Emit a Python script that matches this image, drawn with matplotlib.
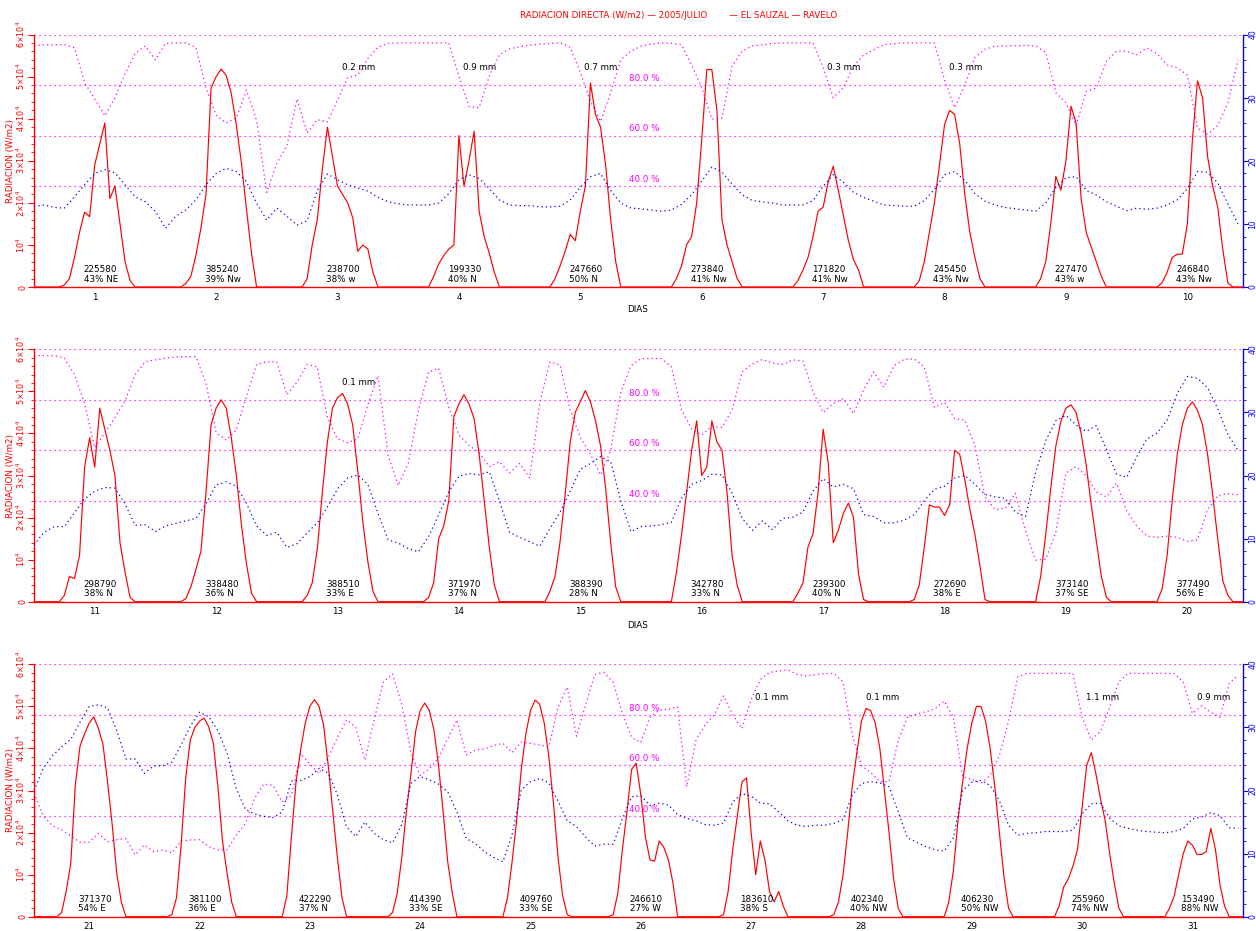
#Radiation plot for El Sauzal - July 2005, three panels of days
import matplotlib
matplotlib.use("Agg")
import matplotlib.pyplot as plt
from matplotlib.ticker import FuncFormatter, MultipleLocator

#radiation per day, hours 6..20 (units of 10^4 W/m2)
rad_1 = [
    [0.05, 0.2, 0.7, 1.3, 1.78, 1.67, 2.9, 3.4, 3.9, 2.1, 2.4, 1.5, 0.6, 0.15, 0],
    [0.08, 0.25, 0.75, 1.4, 2.2, 4.73, 5.0, 5.18, 5.03, 4.6, 3.85, 2.95, 1.85, 0.8, 0],
    [0.2, 1.0, 1.6, 2.8, 3.8, 3.1, 2.4, 2.2, 2.0, 1.65, 0.85, 1.0, 0.9, 0.35, 0],
    [0, 0.25, 0.55, 0.75, 0.9, 1.0, 3.6, 2.4, 3.0, 3.7, 1.8, 1.2, 0.8, 0.35, 0],
    [0, 0.2, 0.5, 0.85, 1.25, 1.1, 1.8, 2.4, 4.85, 4.1, 3.8, 2.9, 1.6, 0.6, 0],
    [0, 0.2, 0.5, 1.0, 1.2, 2.0, 3.5, 5.17, 5.17, 4.2, 1.6, 1.0, 0.6, 0.2, 0],
    [0, 0.15, 0.4, 0.7, 1.2, 1.8, 1.9, 2.5, 2.87, 2.3, 1.7, 1.1, 0.65, 0.4, 0],
    [0, 0.15, 0.6, 1.3, 2.0, 2.9, 3.86, 4.2, 4.1, 3.4, 2.2, 1.3, 0.7, 0.2, 0],
    [0, 0.2, 0.6, 1.5, 2.63, 2.3, 3.0, 4.3, 3.9, 2.1, 1.3, 0.95, 0.6, 0.25, 0],
    [0, 0.1, 0.35, 0.7, 0.78, 0.78, 1.5, 3.5, 4.9, 4.5, 3.1, 2.4, 1.9, 0.9, 0.1],
]
rad_2 = [
    [0.15, 0.6, 0.55, 1.1, 3.2, 3.9, 3.2, 4.6, 4.1, 3.6, 3.0, 1.4, 0.7, 0.1, 0],
    [0.07, 0.35, 0.76, 1.2, 2.6, 4.2, 4.6, 4.8, 4.6, 3.9, 3.0, 1.83, 0.9, 0.2, 0],
    [0.15, 0.45, 1.25, 2.6, 3.8, 4.6, 4.85, 4.95, 4.7, 4.2, 3.1, 1.9, 0.95, 0.25, 0],
    [0.1, 0.45, 1.5, 1.8, 2.4, 4.4, 4.7, 4.92, 4.7, 4.35, 3.5, 2.4, 1.3, 0.4, 0],
    [0.25, 0.6, 1.43, 2.55, 3.8, 4.5, 4.76, 5.02, 4.75, 4.3, 3.7, 2.7, 1.4, 0.35, 0],
    [0, 0.7, 1.59, 2.6, 3.6, 4.3, 3.0, 3.2, 4.3, 3.8, 3.6, 2.6, 1.1, 0.4, 0],
    [0, 0.2, 0.44, 1.3, 1.62, 2.6, 4.1, 3.3, 1.4, 1.7, 2.1, 2.35, 2.0, 0.65, 0.05],
    [0.05, 0.4, 1.3, 2.3, 2.25, 2.25, 2.05, 2.3, 3.6, 3.5, 2.9, 2.2, 1.6, 0.85, 0.05],
    [0, 0.6, 1.6, 2.7, 3.7, 4.29, 4.6, 4.68, 4.5, 4.0, 3.25, 2.3, 1.45, 0.6, 0.1],
    [0, 0.3, 1.1, 2.4, 3.5, 4.2, 4.6, 4.75, 4.55, 4.2, 3.5, 2.55, 1.5, 0.5, 0.15],
]
rad_3 = [
    [0.1, 0.6, 1.27, 3.15, 4.05, 4.35, 4.6, 4.75, 4.48, 4.1, 3.2, 2.2, 1.03, 0.35, 0],
    [0.05, 0.45, 1.7, 3.3, 4.2, 4.5, 4.65, 4.72, 4.52, 4.13, 3.1, 1.8, 1.03, 0.35, 0],
    [0, 0.5, 1.9, 3.2, 3.97, 4.6, 5.0, 5.16, 5.0, 4.55, 3.6, 2.5, 1.4, 0.45, 0],
    [0.1, 0.55, 1.4, 2.5, 3.4, 4.4, 4.9, 5.08, 4.9, 4.44, 3.6, 2.5, 1.3, 0.56, 0],
    [0, 0.45, 1.3, 2.3, 3.5, 4.35, 4.9, 5.15, 5.05, 4.6, 3.8, 2.7, 1.4, 0.5, 0.05],
    [0.05, 0.56, 1.6, 2.5, 3.5, 3.65, 2.9, 1.9, 1.35, 1.32, 1.8, 1.65, 1.35, 0.8, 0],
    [0.05, 0.6, 1.6, 2.4, 3.2, 3.3, 2.0, 1.0, 1.8, 1.35, 0.6, 0.35, 0.6, 0.25, 0],
    [0.05, 0.35, 1.0, 2.0, 3.1, 3.9, 4.65, 4.95, 4.9, 4.6, 4.0, 3.0, 2.0, 0.9, 0.2],
    [0, 0.35, 1.1, 2.3, 3.2, 4.0, 4.6, 5.0, 5.0, 4.65, 4.0, 3.1, 2.0, 0.95, 0.2],
    [0, 0.25, 0.71, 0.9, 1.2, 1.6, 2.6, 3.6, 3.9, 3.4, 2.8, 2.3, 1.5, 0.8, 0.2],
    [0, 0.2, 0.48, 1.0, 1.5, 1.8, 1.7, 1.48, 1.48, 1.55, 2.1, 1.6, 0.75, 0.25, 0],
]

#temperature every 2 hours (right axis)
temp_1 = [
    [12.75, 13.0, 12.6, 12.5, 14.3, 16.2, 18.0, 18.6, 18.1, 16.2, 14.3, 13.5],
    [12.0, 9.3, 11.2, 12.2, 13.8, 16.2, 18.0, 18.8, 18.3, 16.7, 13.3, 10.6],
    [12.5, 11.2, 9.8, 10.5, 15.3, 17.9, 17.0, 16.2, 15.7, 15.2, 14.2, 13.5],
    [13.2, 13.0, 13.0, 13.0, 13.3, 14.8, 17.0, 17.8, 17.2, 15.6, 13.8, 13.0],
    [12.9, 12.9, 12.7, 12.7, 12.8, 13.8, 15.8, 17.5, 18.0, 15.3, 13.3, 12.5],
    [12.4, 12.2, 12.0, 12.2, 13.1, 14.6, 16.8, 19.0, 18.2, 16.3, 14.6, 13.7],
    [13.5, 13.3, 13.0, 13.0, 13.0, 13.7, 16.0, 17.8, 16.6, 15.0, 14.2, 13.6],
    [13.0, 12.9, 12.8, 12.8, 13.7, 15.5, 17.8, 18.3, 16.9, 14.8, 13.6, 13.0],
    [12.6, 12.4, 12.2, 12.0, 13.3, 15.8, 17.3, 17.5, 15.3, 14.6, 13.5, 12.8],
    [12.1, 12.5, 12.3, 12.5, 13.0, 13.8, 15.6, 18.3, 18.2, 16.5, 13.2, 10.0],
]
temp_2 = [
    [9.0, 11.0, 11.9, 11.9, 14.1, 16.3, 17.5, 18.1, 18.0, 15.5, 12.1, 12.2],
    [11.1, 12.0, 12.4, 12.8, 13.2, 15.5, 18.5, 19.0, 18.3, 15.6, 12.0, 10.5],
    [11.0, 8.6, 9.2, 10.9, 12.5, 15.0, 17.9, 19.6, 20.1, 18.6, 14.0, 9.8],
    [9.3, 8.4, 7.9, 10.3, 13.8, 17.4, 19.9, 20.3, 20.1, 20.6, 16.0, 11.0],
    [10.2, 9.5, 8.8, 11.6, 14.2, 17.5, 21.0, 21.9, 23.0, 22.2, 16.0, 11.1],
    [11.9, 12.0, 12.2, 12.6, 16.4, 18.6, 19.2, 20.2, 20.1, 17.2, 13.2, 11.3],
    [12.8, 11.4, 13.2, 13.4, 14.2, 17.5, 19.5, 18.2, 18.6, 17.9, 13.8, 13.5],
    [12.5, 12.5, 12.9, 13.8, 16.0, 17.8, 18.3, 19.6, 20.0, 18.6, 17.0, 16.6],
    [16.4, 14.2, 13.5, 20.5, 25.5, 28.7, 29.5, 28.0, 27.0, 27.9, 24.1, 20.2],
    [19.7, 23.0, 25.8, 26.7, 28.8, 33.0, 35.7, 35.4, 33.9, 30.6, 26.5, 24.0],
]
temp_3 = [
    [20.0, 23.5, 25.5, 26.9, 28.1, 30.8, 33.3, 33.6, 33.1, 29.5, 25.0, 25.0],
    [22.7, 23.9, 23.9, 24.5, 27.2, 30.2, 32.4, 31.7, 29.5, 25.9, 20.3, 17.0],
    [16.3, 15.9, 15.7, 16.6, 21.5, 21.6, 22.2, 23.5, 22.8, 19.3, 14.2, 12.7],
    [15.0, 13.2, 12.2, 11.7, 14.6, 21.1, 22.2, 21.7, 21.0, 19.8, 16.6, 12.4],
    [11.6, 10.3, 9.4, 8.7, 13.0, 20.1, 21.4, 21.9, 21.2, 18.3, 15.2, 14.3],
    [12.6, 11.2, 11.5, 11.5, 15.5, 19.0, 19.2, 17.6, 18.0, 17.7, 16.2, 15.6],
    [15.2, 14.6, 14.5, 14.8, 18.2, 19.5, 19.1, 18.0, 17.9, 16.6, 15.2, 14.5],
    [14.3, 14.5, 14.5, 14.8, 15.4, 19.3, 21.1, 21.4, 21.2, 20.6, 16.6, 12.5],
    [11.8, 11.1, 10.6, 10.4, 12.5, 20.0, 21.3, 21.6, 20.8, 18.4, 14.5, 12.9],
    [13.2, 13.3, 13.5, 13.5, 13.5, 13.7, 16.3, 17.9, 18.0, 15.6, 14.4, 14.0],
    [13.7, 13.5, 13.4, 13.3, 13.5, 14.0, 15.5, 15.8, 16.5, 16.0, 14.1, 14.0],
]

#relative humidity (%) every 2 hours
hum_1 = [
    [95.6, 96.0, 96.0, 96.0, 94.8, 81.0, 74.5, 67.8, 75.0, 84.5, 92.5, 95.5],
    [90.0, 96.5, 96.7, 96.7, 95.0, 79.0, 68.0, 65.0, 67.0, 78.0, 66.0, 37.5],
    [49.0, 56.0, 74.5, 61.0, 66.3, 65.4, 74.0, 83.0, 84.0, 90.5, 95.0, 96.5],
    [96.7, 96.7, 96.7, 96.7, 96.7, 96.7, 83.5, 71.5, 71.0, 83.5, 92.0, 94.3],
    [95.2, 95.8, 96.2, 96.5, 96.7, 95.0, 85.0, 73.5, 65.6, 77.0, 90.0, 93.5],
    [95.4, 96.2, 96.7, 96.5, 96.0, 88.0, 79.0, 66.5, 67.0, 87.5, 93.5, 95.5],
    [96.0, 96.5, 96.7, 96.7, 96.7, 96.7, 87.0, 75.0, 79.0, 87.5, 92.0, 94.0],
    [96.0, 96.4, 96.7, 96.7, 96.7, 96.7, 82.0, 71.0, 80.0, 91.0, 94.2, 95.4],
    [95.5, 95.6, 95.7, 95.5, 93.0, 77.0, 73.0, 64.0, 77.5, 78.8, 89.5, 93.4],
    [93.4, 92.0, 94.7, 92.5, 88.0, 86.8, 84.0, 63.0, 60.5, 64.0, 73.0, 90.0],
]
hum_2 = [
    [97.5, 97.5, 97.5, 96.5, 90.0, 78.5, 61.0, 66.8, 73.0, 79.5, 90.0, 95.1],
    [95.8, 96.5, 97.0, 97.1, 97.1, 86.5, 67.0, 64.0, 68.0, 81.5, 94.0, 95.0],
    [95.0, 82.0, 87.0, 94.0, 93.0, 73.0, 64.5, 63.0, 64.5, 78.0, 89.5, 58.0],
    [46.0, 55.0, 76.0, 91.0, 92.5, 77.0, 66.0, 62.0, 59.0, 53.5, 55.5, 51.0],
    [54.8, 49.0, 79.0, 95.0, 93.8, 76.0, 65.0, 58.5, 50.2, 60.0, 83.0, 93.5],
    [96.3, 96.4, 96.3, 93.0, 76.0, 68.5, 66.0, 69.5, 69.0, 76.0, 91.1, 94.2],
    [96.0, 94.5, 94.0, 95.8, 95.4, 83.2, 75.0, 78.5, 80.5, 74.5, 84.0, 91.0],
    [85.0, 93.5, 96.0, 96.2, 93.0, 77.0, 79.0, 72.5, 72.0, 62.0, 41.5, 36.5],
    [37.0, 43.0, 28.0, 16.5, 16.8, 27.5, 51.0, 53.5, 50.0, 43.5, 41.5, 47.0],
    [36.0, 30.0, 26.0, 25.5, 26.0, 25.5, 24.0, 24.5, 36.5, 42.0, 42.8, 42.4],
]
hum_3 = [
    [49.0, 40.0, 36.0, 34.5, 32.0, 29.5, 29.5, 33.0, 29.7, 30.5, 31.0, 24.5],
    [28.4, 25.8, 26.5, 25.3, 30.0, 30.4, 30.5, 27.7, 26.5, 26.5, 32.3, 37.0],
    [47.0, 52.6, 52.0, 45.5, 48.0, 64.7, 60.5, 56.8, 63.0, 71.0, 78.0, 75.0],
    [62.0, 78.0, 93.0, 96.2, 84.0, 65.0, 56.0, 58.5, 63.0, 70.5, 78.0, 64.0],
    [66.0, 66.5, 67.8, 68.7, 65.0, 69.2, 68.7, 68.0, 67.4, 83.0, 91.0, 71.5],
    [84.0, 96.0, 96.8, 92.8, 80.5, 71.0, 69.0, 79.0, 81.8, 82.2, 83.2, 51.5],
    [70.0, 76.0, 80.0, 87.5, 80.0, 74.5, 86.0, 94.0, 96.8, 97.4, 97.8, 96.0],
    [95.3, 95.9, 96.3, 96.4, 93.0, 72.0, 59.8, 57.2, 53.5, 53.5, 70.0, 79.0],
    [80.3, 81.2, 82.4, 85.4, 79.0, 55.5, 54.4, 52.9, 56.0, 63.8, 77.5, 95.0],
    [96.4, 96.4, 96.4, 96.4, 96.4, 96.4, 79.0, 70.0, 73.5, 83.0, 93.1, 96.4],
    [96.4, 96.4, 96.4, 96.4, 96.4, 93.0, 80.5, 83.5, 81.0, 79.0, 92.5, 95.6],
]

#daily totals and wind text
totals_1 = [225580, 385240, 238700, 199330, 247660, 273840, 171820, 245450, 227470, 246840]
winds_1 = ["43% NE", "39% Nw", "38% w", "40% N", "50% N", "41% Nw", "41% Nw", "43% Nw", "43% w", "43% Nw"]
totals_2 = [298790, 338480, 388510, 371970, 388390, 342780, 239300, 272690, 373140, 377490]
winds_2 = ["38% N", "36% N", "33% E", "37% N", "28% N", "33% N", "40% N", "38% E", "37% SE", "56% E"]
totals_3 = [371370, 381100, 422290, 414390, 409760, 246610, 183610, 402340, 406230, 255960, 153490]
winds_3 = ["54% E", "36% E", "37% N", "33% SE", "33% SE", "27% W", "38% S", "40% NW", "50% NW", "74% NW", "88% NW"]

#rain per day (mm)
rain_1 = {3: "0.2 mm", 4: "0.9 mm", 5: "0.7 mm", 7: "0.3 mm", 8: "0.3 mm"}
rain_2 = {13: "0.1 mm"}
rain_3 = {27: "0.1 mm", 28: "0.1 mm", 30: "1.1 mm", 31: "0.9 mm"}

RED = "#ff0000"
BLUE = "#0000ff"
MAGENTA = "#ff00ff"
FS = 6.3


#hourly radiation series with zeros at night
def expand_rad(days):
    out = []
    for d in days:
        out += [0] * 6 + [v * 1e4 for v in d] + [0] * 3
    return out


def flatten(days, scale):
    out = []
    for d in days:
        out += [v * scale for v in d]
    return out


def rad_label(v, pos):
    n = int(round(v / 1e4))
    if n == 0:
        return "0"
    if n == 1:
        return "10$^4$"
    return "%d$\\times$10$^4$" % n


def plot_panel(fig, rect, first_day, rad, temp, hum, totals, winds, rain, dias_y):
    ndays = len(rad)
    ax = fig.add_axes(rect)
    ax.set_xlim(0, ndays * 24 - 1)
    ax.set_ylim(0, 6e4)

    #percent lines
    for p in [100, 80, 60, 40]:
        ax.axhline(p * 600, color=MAGENTA, lw=0.9, ls=(0, (1, 3)), zorder=1)
        if p < 100:
            ax.annotate("%.1f %%" % p, xy=(0.492, p * 600), xycoords=("axes fraction", "data"),
                        xytext=(0, 1.5), textcoords="offset points", color=MAGENTA,
                        fontsize=FS, va="bottom", ha="left")

    hx = list(range(0, ndays * 24, 2))
    ax.plot(hx, flatten(hum, 600), color=MAGENTA, lw=0.9, ls=(0, (1, 2.5)), zorder=2)
    ax.plot(range(ndays * 24), expand_rad(rad), color=RED, lw=0.85, zorder=5)

    #day labels
    ax.set_xticks([12 + 24 * i for i in range(ndays)])
    ax.set_xticklabels([str(first_day + i) for i in range(ndays)])
    ax.tick_params(axis="x", length=0, pad=4, labelsize=FS)

    ax.yaxis.set_major_locator(MultipleLocator(1e4))
    ax.yaxis.set_minor_locator(MultipleLocator(2e3))
    ax.yaxis.set_major_formatter(FuncFormatter(rad_label))
    ax.tick_params(axis="y", which="major", length=4, width=0.8, color=RED, labelcolor=RED,
                   labelsize=5.8, pad=1)
    ax.tick_params(axis="y", which="minor", length=2, width=0.6, color=RED)
    for t in ax.get_yticklabels():
        t.set_rotation(90)
        t.set_va("center")
    for s in ["top", "right"]:
        ax.spines[s].set_visible(False)
    ax.spines["left"].set_color(RED)
    ax.spines["bottom"].set_color(RED)
    ax.spines["left"].set_linewidth(1.0)
    ax.spines["bottom"].set_linewidth(1.0)

    #totals and wind under each curve
    for i in range(ndays):
        noon = 12 + 24 * i
        ax.annotate(str(totals[i]), xy=(noon, 0), xytext=(-8, 12.3), textcoords="offset points",
                    fontsize=FS, ha="left", va="center", zorder=6)
        ax.annotate(winds[i], xy=(noon, 0), xytext=(-8, 5.6), textcoords="offset points",
                    fontsize=FS, ha="left", va="center", zorder=6)
    for day in rain:
        noon = 12 + 24 * (day - first_day)
        ax.annotate(rain[day], xy=(noon, 5.21e4), xytext=(3, 0), textcoords="offset points",
                    fontsize=FS, ha="left", va="center", zorder=6)

    #temperature on the right axis
    ax2 = ax.twinx()
    ax2.plot(hx, flatten(temp, 1), color=BLUE, lw=0.9, ls=(0, (1, 2.5)))
    ax2.set_ylim(0, 40)
    ax2.set_xlim(0, ndays * 24 - 1)
    ax2.yaxis.set_major_locator(MultipleLocator(10))
    ax2.yaxis.set_minor_locator(MultipleLocator(2))
    ax2.tick_params(axis="y", which="major", length=3.5, width=0.8, color=BLUE, labelcolor=BLUE,
                    labelsize=5.5, pad=0.5)
    ax2.tick_params(axis="y", which="minor", length=2, width=0.6, color=BLUE)
    for t in ax2.get_yticklabels():
        t.set_rotation(90)
        t.set_va("center")
    for s in ["top", "left", "bottom"]:
        ax2.spines[s].set_visible(False)
    ax2.spines["right"].set_color(BLUE)
    ax2.spines["right"].set_linewidth(1.0)

    #axis title
    fig.text(11 / 1256, rect[1] + rect[3] / 2, "RADIACION (W/m2)", rotation=90, color=RED,
             fontsize=FS, ha="center", va="center")
    if dias_y is not None:
        fig.text(638 / 1256, dias_y, "DIAS", fontsize=FS, ha="center", va="center")


def main():
    fig = plt.figure(figsize=(12.56, 9.31), dpi=100)
    left = 34 / 1256
    width = 1209 / 1256
    height = 252.4 / 931
    plot_panel(fig, [left, 644 / 931, width, height], 1, rad_1, temp_1, hum_1,
               totals_1, winds_1, rain_1, 1 - 309 / 931)
    plot_panel(fig, [left, 329.3 / 931, width, height], 11, rad_2, temp_2, hum_2,
               totals_2, winds_2, rain_2, 1 - 625 / 931)
    plot_panel(fig, [left, 14.3 / 931, width, height], 21, rad_3, temp_3, hum_3,
               totals_3, winds_3, rain_3, None)
    fig.text(0.5406, 1 - 15 / 931,
             "RADIACION DIRECTA (W/m2) \u2014 2005/JULIO        \u2014 EL SAUZAL \u2014 RAVELO",
             color=RED, fontsize=FS, ha="center", va="center")
    fig.savefig("out.png", dpi=100)


main()
